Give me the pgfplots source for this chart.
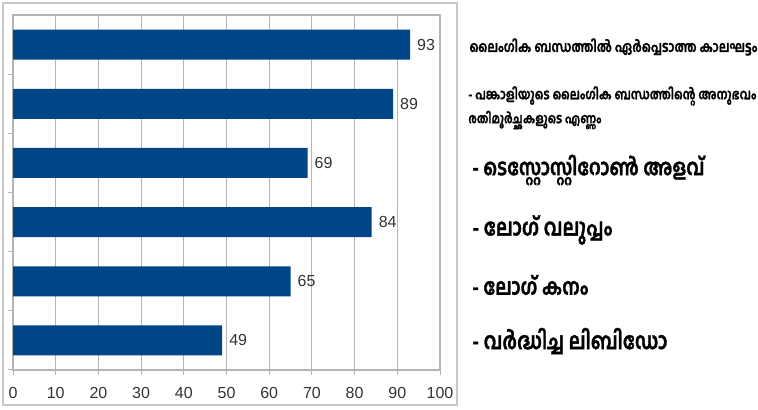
\documentclass[border=0pt]{standalone}
\usepackage{fontspec}
\setmainfont{Liberation Sans}
\newfontfamily\mlfont[Script=Malayalam, BoldFeatures={FakeBold=1.5}]{Hind Kochi}
\usepackage{pgfplots}
\pgfplotsset{compat=1.18}
\definecolor{barblue}{HTML}{004586}
\definecolor{framegray}{HTML}{C8C8C8}
\definecolor{gridgray}{HTML}{B4B4B4}
\newcommand{\ml}[2]{\resizebox{#1}{!}{\scalebox{1}[1.25]{\mlfont\bfseries #2}}}
\begin{document}
\begin{tikzpicture}
\path[use as bounding box] (0pt,0pt) rectangle (379pt,205pt);
\draw[framegray,line width=1.2pt] (1.5pt,2.5pt) rectangle (228.5pt,203.5pt);
\begin{axis}[
  at={(6.5pt,20pt)}, anchor=south west,
  scale only axis, width=213.5pt, height=177.5pt,
  xbar, bar width=15pt,
  xmin=0, xmax=100, ymin=0.5, ymax=6.5, y dir=reverse,
  xtick={0,10,...,100}, ytick={1.5,2.5,...,6.5}, yticklabels={},
  xtick pos=bottom, ytick pos=left, tick align=outside,
  major tick length=2.5pt,
  xmajorgrids, grid style={gridgray, line width=0.5pt},
  axis line style={gridgray, line width=0.6pt},
  tick style={gridgray, line width=0.5pt},
  /pgf/number format/assume math mode=true,
  xticklabel style={font=\fontsize{8}{9}\selectfont, text=black!80, yshift=-2.5pt},
  nodes near coords,
  nodes near coords style={font=\fontsize{8}{9}\selectfont, text=black!80, anchor=west, xshift=0pt},
]
\addplot[fill=barblue, draw=none] coordinates {(93,1) (89,2) (69,3) (84,4) (65,5) (49,6)};
\end{axis}
\begin{scope}[every node/.style={anchor=west, inner sep=0pt, text=black}]
\node at (234.5pt,181.5pt) {\ml{144pt}{ലൈംഗിക ബന്ധത്തിൽ ഏർപ്പെടാത്ത കാലഘട്ടം}};
\node at (234pt,157pt) {\ml{144pt}{- പങ്കാളിയുടെ ലൈംഗിക ബന്ധത്തിന്റെ അനുഭവം}};
\node at (234pt,145pt) {\ml{66.5pt}{രതിമൂർച്ഛകളുടെ എണ്ണം}};
\node at (236pt,120pt) {\ml{116pt}{- ടെസ്റ്റോസ്റ്റിറോൺ അളവ്}};
\node at (236pt,90pt) {\ml{70pt}{- ലോഗ് വലുപ്പം}};
\node at (236pt,62.5pt) {\ml{58pt}{- ലോഗ് കനം}};
\node at (236pt,34.5pt) {\ml{97.5pt}{- വർദ്ധിച്ച ലിബിഡോ}};
\end{scope}
\end{tikzpicture}
\end{document}
